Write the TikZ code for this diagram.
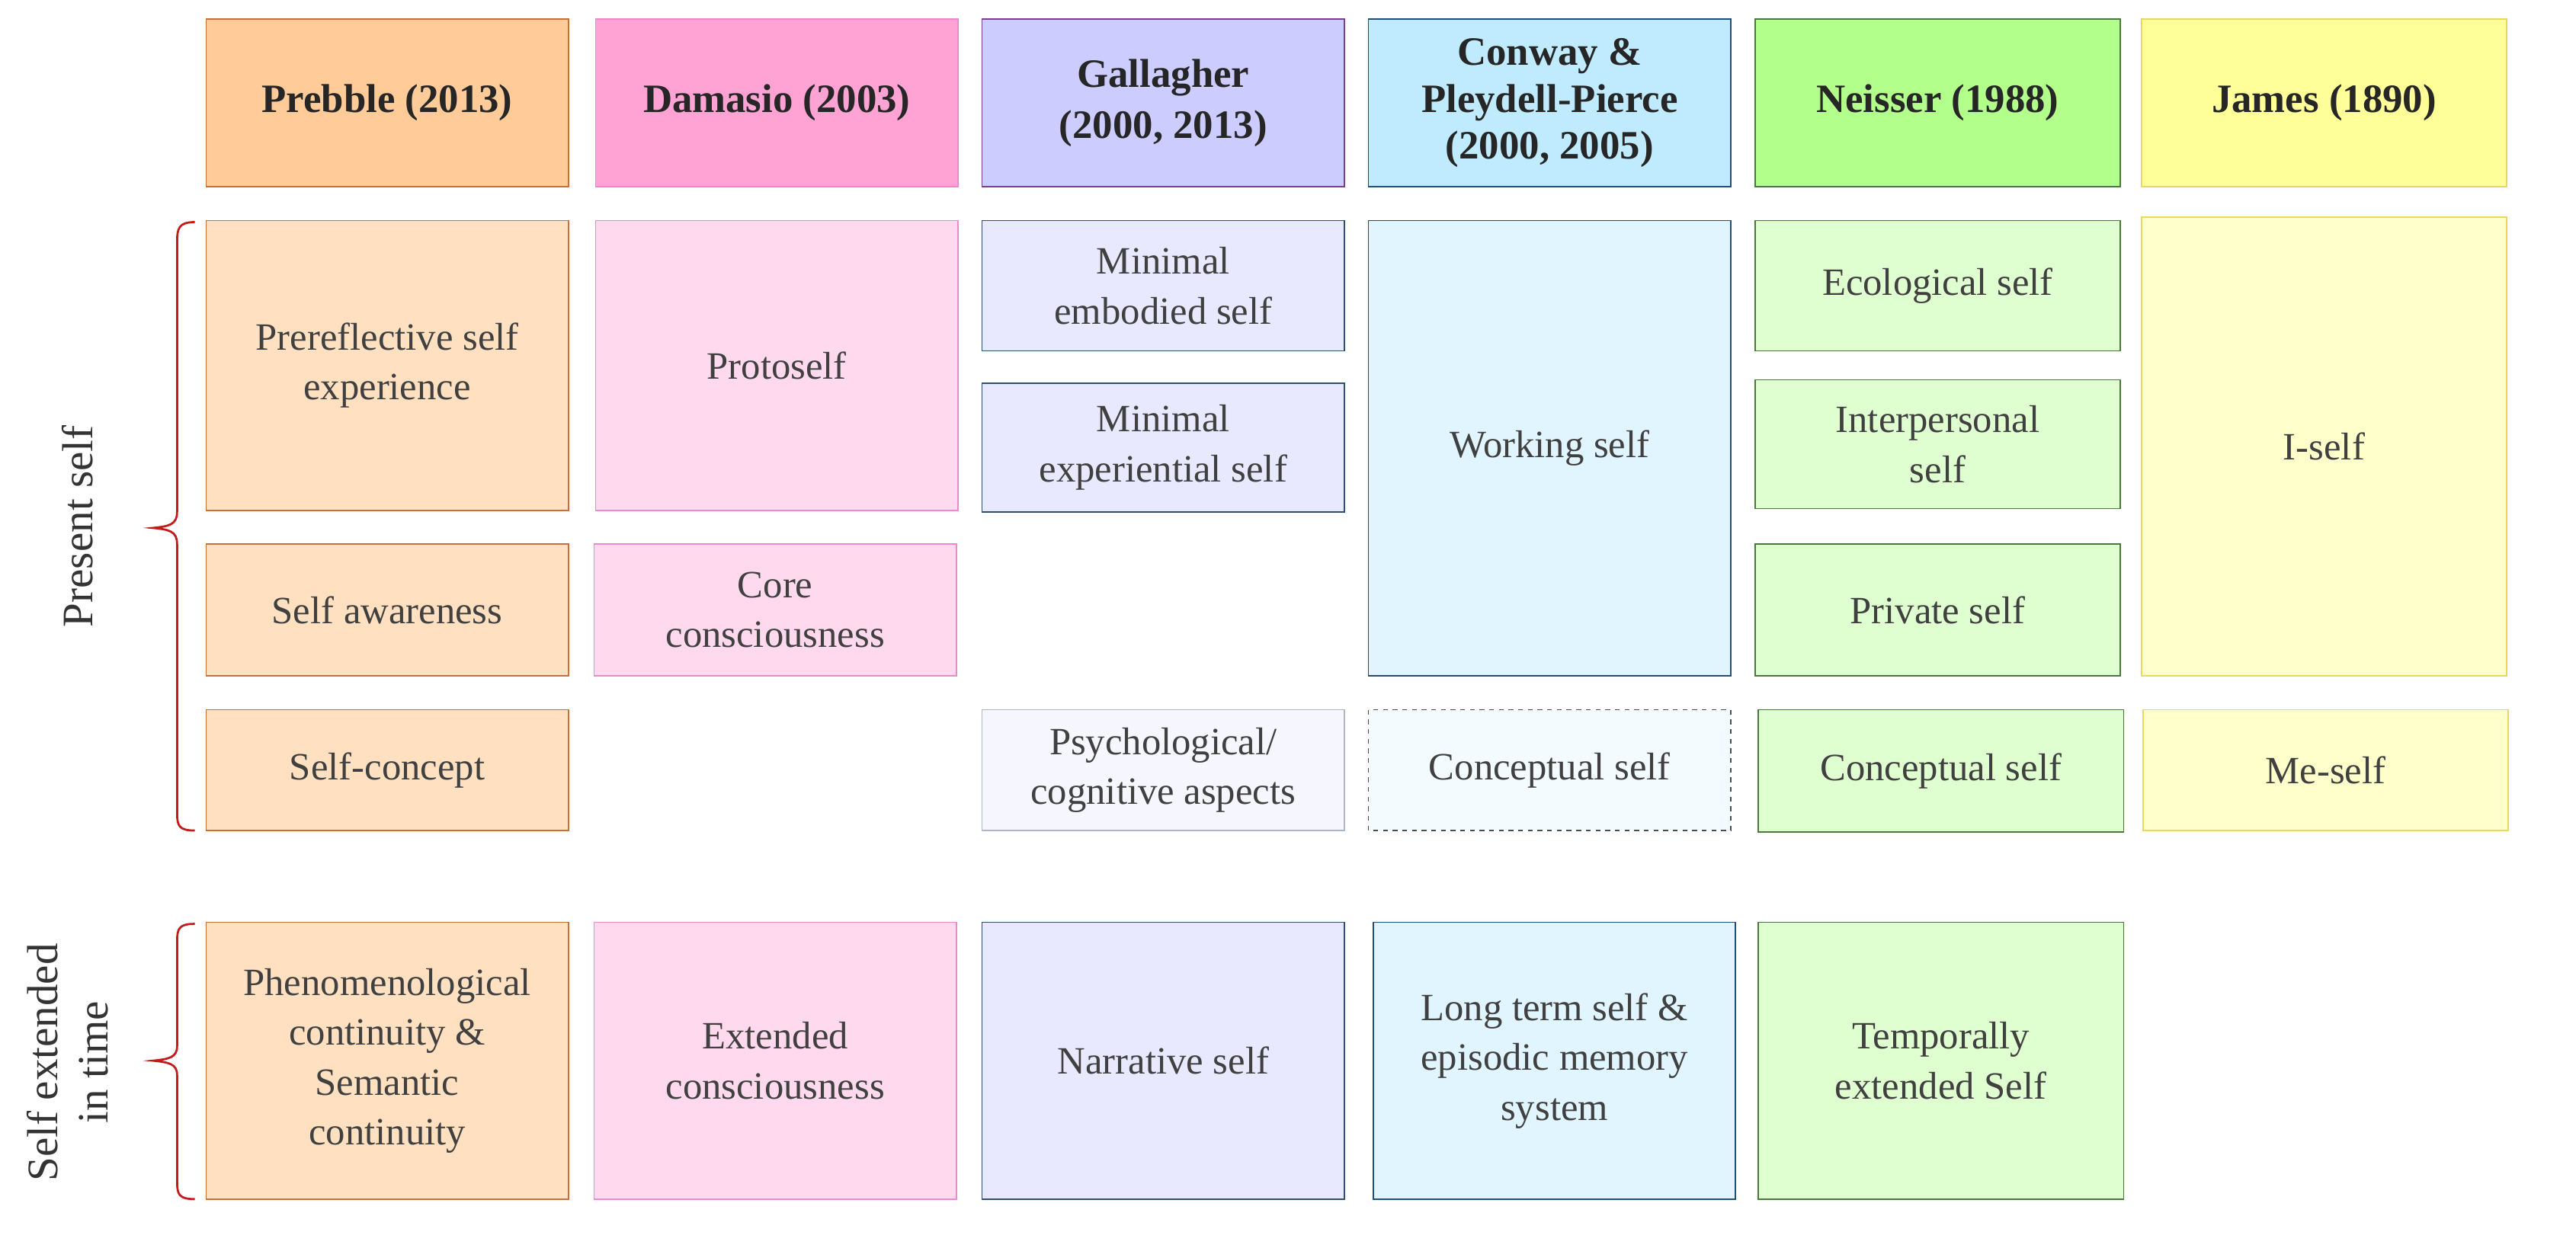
\documentclass[tikz,border=0pt]{standalone}
\usepackage{fontspec}
\setmainfont{LiberationSerif}[Extension=.ttf,UprightFont=*-Regular,BoldFont=*-Bold]
\begin{document}
\begin{tikzpicture}[x=1pt,y=-1pt,
 bx/.style={draw,line width=0.8pt,align=center,font=\fontsize{24}{31}\selectfont,text=black!75},
 hd/.style={bx,font=\fontsize{25}{32}\selectfont\bfseries,text=black!85},
 brace/.style={draw=red!75!black!90,line width=1.3pt}]
\useasboundingbox (0,0) rectangle (1600,775);
\definecolor{prH}{HTML}{FFCC99}\definecolor{prB}{HTML}{FFE0C0}\definecolor{prD}{HTML}{C87038}
\definecolor{daH}{HTML}{FFA3D4}\definecolor{daB}{HTML}{FFDAEE}\definecolor{daD}{HTML}{EE88CC}
\definecolor{gaH}{HTML}{CCCCFF}\definecolor{gaB}{HTML}{E8E8FF}\definecolor{gaD}{HTML}{7A3F8F}\definecolor{gaE}{HTML}{2F4F6F}
\definecolor{coH}{HTML}{C0EBFF}\definecolor{coB}{HTML}{E0F5FF}\definecolor{coD}{HTML}{1F4E79}
\definecolor{neH}{HTML}{B3FF8C}\definecolor{neB}{HTML}{E0FFD0}\definecolor{neD}{HTML}{4A7A3A}
\definecolor{jaH}{HTML}{FFFF99}\definecolor{jaB}{HTML}{FFFFCC}\definecolor{jaD}{HTML}{E8D860}
% headers
\draw[fill=prH,draw=prD,line width=0.8pt] (128,12) rectangle (353,116) node[midway,hd,draw=none] (h1) {Prebble (2013)};
\draw[fill=daH,draw=daD,line width=0.8pt] (370,12) rectangle (595,116) node[midway,hd,draw=none] (h2) {Damasio (2003)};
\draw[fill=gaH,draw=gaD,line width=0.8pt] (610,12) rectangle (835,116) node[midway,hd,draw=none] (h3) {Gallagher\\(2000, 2013)};
\draw[fill=coH,draw=coD,line width=0.8pt] (850,12) rectangle (1075,116) node[midway,hd,draw=none,font=\fontsize{25}{29}\selectfont\bfseries] (h4) {Conway \&\\Pleydell-Pierce\\(2000, 2005)};
\draw[fill=neH,draw=neD,line width=0.8pt] (1090,12) rectangle (1317,116) node[midway,hd,draw=none] (h5) {Neisser (1988)};
\draw[fill=jaH,draw=jaD,line width=0.8pt] (1330,12) rectangle (1557,116) node[midway,hd,draw=none] (h6) {James (1890)};
% Prebble
\draw[fill=prB,draw=prD,line width=0.8pt] (128,137) rectangle (353,317) node[midway,bx,draw=none] (p1) {Prereflective self\\experience};
\draw[fill=prB,draw=prD,line width=0.8pt] (128,338) rectangle (353,420) node[midway,bx,draw=none] (p2) {Self awareness};
\draw[fill=prB,draw=prD,line width=0.8pt] (128,441) rectangle (353,516) node[midway,bx,draw=none] (p3) {Self-concept};
\draw[fill=prB,draw=prD,line width=0.8pt] (128,573) rectangle (353,745) node[midway,bx,draw=none] (p4) {Phenomenological\\continuity \&\\Semantic\\continuity};
% Damasio
\draw[fill=daB,draw=daD,line width=0.8pt] (370,137) rectangle (595,317) node[midway,bx,draw=none] (d1) {Protoself};
\draw[fill=daB,draw=daD,line width=0.8pt] (369,338) rectangle (594,420) node[midway,bx,draw=none] (d2) {Core\\consciousness};
\draw[fill=daB,draw=daD,line width=0.8pt] (369,573) rectangle (594,745) node[midway,bx,draw=none] (d3) {Extended\\consciousness};
% Gallagher
\draw[fill=gaB,draw=gaE,line width=0.8pt] (610,137) rectangle (835,218) node[midway,bx,draw=none] (g1) {Minimal\\embodied self};
\draw[fill=gaB,draw=gaE,line width=0.8pt] (610,238) rectangle (835,318) node[midway,bx,draw=none] (g2) {Minimal\\experiential self};
\draw[fill=gaB!40,draw=gaE!40,line width=0.8pt] (610,441) rectangle (835,516) node[midway,bx,draw=none] (g3) {Psychological/\\cognitive aspects};
\draw[fill=gaB,draw=gaE,line width=0.8pt] (610,573) rectangle (835,745) node[midway,bx,draw=none] (g4) {Narrative self};
% Conway
\draw[fill=coB,draw=coD,line width=0.8pt] (850,137) rectangle (1075,420) node[midway,bx,draw=none] (c1) {Working self};
\draw[fill=coB!40,draw=black!70,line width=0.8pt,dashed] (850,441) rectangle (1075,516) node[midway,bx,draw=none,solid] (c2) {Conceptual self};
\draw[fill=coB,draw=coD,line width=0.8pt] (853,573) rectangle (1078,745) node[midway,bx,draw=none] (c3) {Long term self \&\\episodic memory\\system};
% Neisser
\draw[fill=neB,draw=neD,line width=0.8pt] (1090,137) rectangle (1317,218) node[midway,bx,draw=none] (n1) {Ecological self};
\draw[fill=neB,draw=neD,line width=0.8pt] (1090,236) rectangle (1317,316) node[midway,bx,draw=none] (n2) {Interpersonal\\self};
\draw[fill=neB,draw=neD,line width=0.8pt] (1090,338) rectangle (1317,420) node[midway,bx,draw=none] (n3) {Private self};
\draw[fill=neB,draw=neD,line width=0.8pt] (1092,441) rectangle (1319,517) node[midway,bx,draw=none] (n4) {Conceptual self};
\draw[fill=neB,draw=neD,line width=0.8pt] (1092,573) rectangle (1319,745) node[midway,bx,draw=none] (n5) {Temporally\\extended Self};
% James
\draw[fill=jaB,draw=jaD,line width=0.8pt] (1330,135) rectangle (1557,420) node[midway,bx,draw=none] (j1) {I-self};
\draw[fill=jaB,draw=jaD,line width=0.8pt] (1331,441) rectangle (1558,516) node[midway,bx,draw=none] (j2) {Me-self};
% braces
\draw[brace] (121,138) .. controls (111,138) and (110,142) .. (110,150) -- (110,318) .. controls (110,326) and (105,327) .. (95,328) .. controls (105,329) and (110,330) .. (110,338) -- (110,505) .. controls (110,513) and (111,516) .. (121,516);
\draw[brace] (121,574) .. controls (111,574) and (110,577) .. (110,585) -- (110,650) .. controls (110,657) and (105,658) .. (95,659) .. controls (105,660) and (110,661) .. (110,668) -- (110,734) .. controls (110,742) and (111,745) .. (121,745);
\node[rotate=90,font=\fontsize{27}{31}\selectfont,text=black!80] (ps) at (48,327) {Present self};
\node[rotate=90,align=center,font=\fontsize{27}{31}\selectfont,text=black!80] (se) at (42,660) {Self extended\\in time};
\end{tikzpicture}
\end{document}
